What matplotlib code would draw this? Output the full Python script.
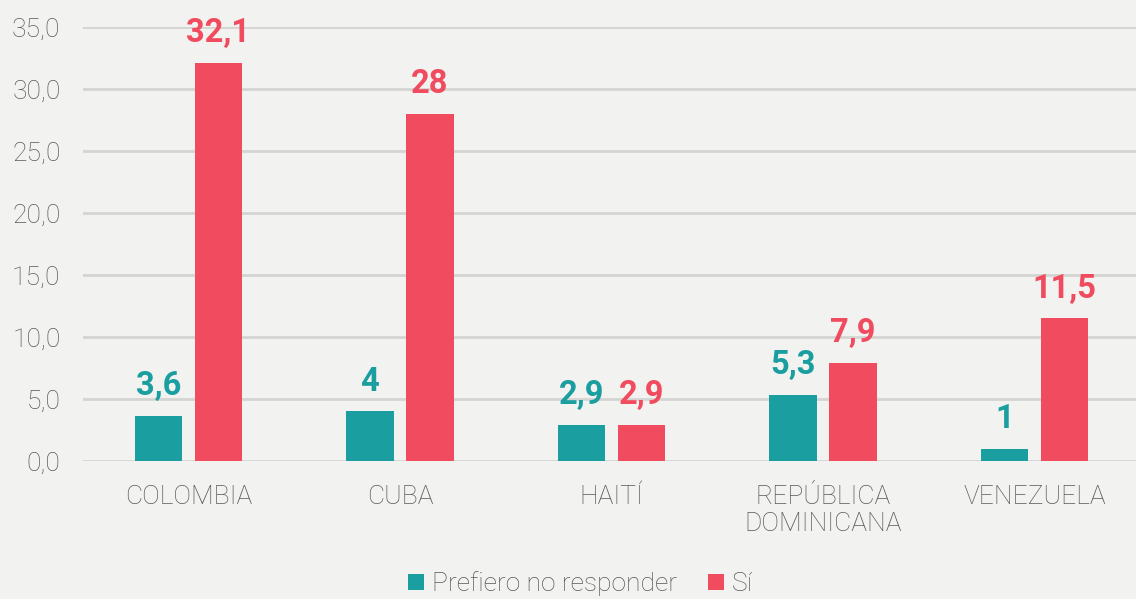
import matplotlib.pyplot as plt
import numpy as np

plt.rcParams['font.family'] = ['Roboto', 'DejaVu Sans']

# Data
paises = ['COLOMBIA', 'CUBA', 'HAITÍ', 'REPÚBLICA\nDOMINICANA', 'VENEZUELA']
prefiero_no = [3.6, 4.0, 2.9, 5.3, 1.0]
si = [32.1, 28.0, 2.9, 7.9, 11.5]
etiquetas_no = ['3,6', '4', '2,9', '5,3', '1']
etiquetas_si = ['32,1', '28', '2,9', '7,9', '11,5']

teal = '#1a9e9f'
red = '#f04b5e'
bg = '#f2f2f0'
grid = '#d4d4d2'
text_gray = '#595959'

fig = plt.figure(figsize=(11.36, 5.99), dpi=100, facecolor=bg)
ax = fig.add_axes([0.0728, 0.2304, 0.931, 0.7245], facecolor=bg)

x = np.arange(len(paises))
w = 0.223
off = 0.142
b1 = ax.bar(x - off, prefiero_no, w, color=teal, label='Prefiero no responder', zorder=3)
b2 = ax.bar(x + off, si, w, color=red, label='Sí', zorder=3)

for rect, lab in zip(b1, etiquetas_no):
    ax.annotate(lab, (rect.get_x() + rect.get_width() / 2, rect.get_height()),
                xytext=(0, 10), textcoords='offset points', ha='center', va='bottom',
                color=teal, fontsize=23.5, fontweight='bold')
for rect, lab in zip(b2, etiquetas_si):
    ax.annotate(lab, (rect.get_x() + rect.get_width() / 2, rect.get_height()),
                xytext=(0, 10), textcoords='offset points', ha='center', va='bottom',
                color=red, fontsize=23.5, fontweight='bold')

ax.set_xlim(-0.5, 4.5)
ax.set_ylim(0, 35)
yt = np.arange(0, 36, 5)
ax.set_yticks(yt)
ax.set_yticklabels([f'{v:.1f}'.replace('.', ',') for v in yt])
ax.set_xticks(x)
ax.set_xticklabels(paises, linespacing=1.2)
ax.tick_params(axis='y', length=0, pad=16, labelsize=19, labelcolor=text_gray)
ax.tick_params(axis='x', length=0, pad=17, labelsize=19, labelcolor=text_gray)
for lab in ax.get_xticklabels() + ax.get_yticklabels():
    lab.set_fontweight('light')

ax.yaxis.grid(True, color=grid, linewidth=2, zorder=0)
for s in ax.spines.values():
    s.set_visible(False)

leg = fig.legend(loc='lower center', bbox_to_anchor=(0.511, -0.035), ncol=2, frameon=False,
                 fontsize=19, handlelength=0.6, handleheight=0.6, handletextpad=0.3,
                 columnspacing=1.2)
for t in leg.get_texts():
    t.set_color(text_gray)
    t.set_fontweight('light')

fig.savefig('out.png', dpi=100, facecolor=bg)
